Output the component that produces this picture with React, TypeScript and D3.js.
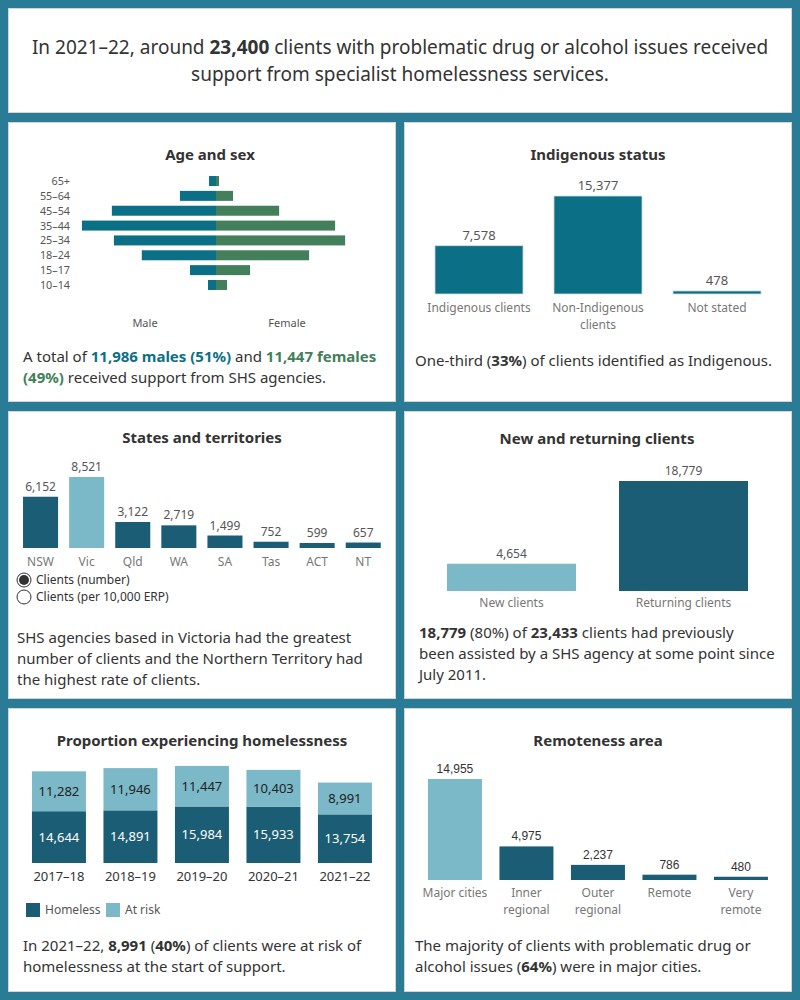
import React from "react";
import * as d3 from "d3";

// age and sex
const ageGroups = ["65+", "55–64", "45–54", "35–44", "25–34", "18–24", "15–17", "10–14"];
const maleClients = [170, 880, 2540, 3270, 2490, 1810, 635, 195];
const femaleClients = [75, 415, 1540, 2905, 3150, 2270, 830, 270];

// indigenous status
const indigenousCats = ["Indigenous clients", "Non-Indigenous clients", "Not stated"];
const indigenousLabels = [["Indigenous clients"], ["Non-Indigenous", "clients"], ["Not stated"]];
const indigenousValues = [7578, 15377, 478];

// states and territories
const states = ["NSW", "Vic", "Qld", "WA", "SA", "Tas", "ACT", "NT"];
const stateClients = [6152, 8521, 3122, 2719, 1499, 752, 599, 657];

// new and returning
const clientTypes = ["New clients", "Returning clients"];
const clientTypeValues = [4654, 18779];

// proportion experiencing homelessness
const years = ["2017–18", "2018–19", "2019–20", "2020–21", "2021–22"];
const homeless = [14644, 14891, 15984, 15933, 13754];
const atRisk = [11282, 11946, 11447, 10403, 8991];

// remoteness
const remoteness = ["Major cities", "Inner regional", "Outer regional", "Remote", "Very remote"];
const remotenessLabels = [["Major cities"], ["Inner", "regional"], ["Outer", "regional"], ["Remote"], ["Very", "remote"]];
const remotenessValues = [14955, 4975, 2237, 786, 480];

const FONT = "'Noto Sans', 'Open Sans', sans-serif";
const ARIAL = "'Liberation Sans', Arial, sans-serif";
const BG = "#2a7b95";
const MALE = "#0b7086";
const FEMALE = "#427f5a";
const DARK = "#1a5d74";
const LIGHT = "#7bb8c8";
const TXT = "#333";
const VAL = "#555";
const CAT = "#777";
const fmt = d3.format(",");

const Panel = ({ x, y, w, h }) => (
  <rect x={x + 0.5} y={y + 0.5} width={w - 1} height={h - 1} fill="#fff" stroke="#d4d4d4" />
);

const Title = ({ x, y, children }) => (
  <text x={x} y={y} textAnchor="middle" fontFamily={FONT} fontSize={15} fontWeight="bold" fill={TXT}>
    {children}
  </text>
);

const AgeSex = () => {
  const y = d3.scaleBand().domain(ageGroups).range([173.6, 292.4]).paddingInner(0.327).paddingOuter(0.1635);
  const x = d3.scaleLinear().domain([-4000, 4000]).range([52, 380]);
  return (
    <g>
      <Panel x={8} y={122} w={388} h={280} />
      <Title x={210} y={160}>Age and sex</Title>
      {ageGroups.map((a, i) => (
        <g key={a}>
          <text x={70} y={y(a) + y.bandwidth() / 2 + 4} textAnchor="end" fontFamily={FONT} fontSize={10.8} fill={VAL}>{a}</text>
          <rect x={x(-maleClients[i])} y={y(a)} width={x(0) - x(-maleClients[i])} height={y.bandwidth()} fill={MALE} />
          <rect x={x(0)} y={y(a)} width={x(femaleClients[i]) - x(0)} height={y.bandwidth()} fill={FEMALE} />
        </g>
      ))}
      <text x={145} y={327} textAnchor="middle" fontFamily={FONT} fontSize={11} fill={VAL}>Male</text>
      <text x={287} y={327} textAnchor="middle" fontFamily={FONT} fontSize={11} fill={VAL}>Female</text>
      <text fontFamily={FONT} fontSize={15} fill={TXT}>
        <tspan x={23} y={362}>A total of </tspan>
        <tspan fill={MALE} fontWeight="bold">11,986 males (51%)</tspan>
        <tspan> and </tspan>
        <tspan fill={FEMALE} fontWeight="bold">11,447 females</tspan>
        <tspan x={23} y={383} fill={FEMALE} fontWeight="bold">(49%)</tspan>
        <tspan> received support from SHS agencies.</tspan>
      </text>
    </g>
  );
};

const Indigenous = () => {
  const x = d3.scaleBand().domain(indigenousCats).range([419.5, 776.5]).paddingInner(0.26).paddingOuter(0.13);
  const y = d3.scaleLinear().domain([0, 15377]).range([294, 196]);
  return (
    <g>
      <Panel x={404} y={122} w={388} h={280} />
      <Title x={598} y={160}>Indigenous status</Title>
      {indigenousCats.map((c, i) => {
        const cx = x(c) + x.bandwidth() / 2;
        return (
          <g key={c}>
            <rect x={x(c)} y={y(indigenousValues[i])} width={x.bandwidth()} height={y(0) - y(indigenousValues[i])} fill={MALE} stroke="#ddd" strokeWidth={0.8} />
            <text x={cx} y={y(indigenousValues[i]) - 6} textAnchor="middle" fontFamily={FONT} fontSize={13} fill={VAL}>{fmt(indigenousValues[i])}</text>
            {indigenousLabels[i].map((l, j) => (
              <text key={l} x={cx} y={312 + j * 17} textAnchor="middle" fontFamily={FONT} fontSize={12} fill={CAT}>{l}</text>
            ))}
          </g>
        );
      })}
      <text x={415} y={366} fontFamily={FONT} fontSize={15} fill={TXT}>
        One-third (<tspan fontWeight="bold">33%</tspan>) of clients identified as Indigenous.
      </text>
    </g>
  );
};

const States = () => {
  const x = d3.scaleBand().domain(states).range([17.5, 386.3]).paddingInner(0.24).paddingOuter(0.12);
  const y = d3.scaleLinear().domain([0, 8521]).range([548, 477]);
  return (
    <g>
      <Panel x={8} y={411} w={388} h={288} />
      <Title x={202} y={443}>States and territories</Title>
      {states.map((s, i) => {
        const cx = x(s) + x.bandwidth() / 2;
        return (
          <g key={s}>
            <rect x={x(s)} y={y(stateClients[i])} width={x.bandwidth()} height={y(0) - y(stateClients[i])} fill={s === "Vic" ? LIGHT : DARK} />
            <text x={cx} y={y(stateClients[i]) - 6} textAnchor="middle" fontFamily={FONT} fontSize={12} fill={VAL}>{fmt(stateClients[i])}</text>
            <text x={cx} y={566} textAnchor="middle" fontFamily={FONT} fontSize={12} fill={CAT}>{s}</text>
          </g>
        );
      })}
      <circle cx={24} cy={580} r={7} fill="#fff" stroke="#333" strokeWidth={1} />
      <circle cx={24} cy={580} r={5} fill="#333" />
      <circle cx={24} cy={597} r={7} fill="#fff" stroke="#333" strokeWidth={1} />
      <text x={36} y={584} fontFamily={FONT} fontSize={12} fill={TXT}>Clients (number)</text>
      <text x={36} y={601} fontFamily={FONT} fontSize={12} fill={TXT}>Clients (per 10,000 ERP)</text>
      <text fontFamily={FONT} fontSize={15} fill={TXT}>
        <tspan x={17} y={643}>SHS agencies based in Victoria had the greatest</tspan>
        <tspan x={17} y={664}>number of clients and the Northern Territory had</tspan>
        <tspan x={17} y={685}>the highest rate of clients.</tspan>
      </text>
    </g>
  );
};

const NewReturning = () => {
  const x = d3.scaleBand().domain(clientTypes).range([425.5, 769.5]).paddingInner(0.25).paddingOuter(0.125);
  const y = d3.scaleLinear().domain([0, 18779]).range([591, 481]);
  return (
    <g>
      <Panel x={404} y={411} w={388} h={288} />
      <Title x={597} y={444}>New and returning clients</Title>
      {clientTypes.map((c, i) => {
        const cx = x(c) + x.bandwidth() / 2;
        return (
          <g key={c}>
            <rect x={x(c)} y={y(clientTypeValues[i])} width={x.bandwidth()} height={y(0) - y(clientTypeValues[i])} fill={i === 0 ? LIGHT : DARK} />
            <text x={cx} y={y(clientTypeValues[i]) - 6} textAnchor="middle" fontFamily={FONT} fontSize={12} fill={VAL}>{fmt(clientTypeValues[i])}</text>
            <text x={cx} y={607} textAnchor="middle" fontFamily={FONT} fontSize={12} fill={CAT}>{c}</text>
          </g>
        );
      })}
      <text fontFamily={FONT} fontSize={15} fill={TXT}>
        <tspan x={419} y={638} fontWeight="bold">18,779</tspan>
        <tspan> (80%) of </tspan>
        <tspan fontWeight="bold">23,433</tspan>
        <tspan> clients had previously</tspan>
        <tspan x={419} y={659}>been assisted by a SHS agency at some point since</tspan>
        <tspan x={419} y={680}>July 2011.</tspan>
      </text>
    </g>
  );
};

const Proportion = () => {
  const rows = years.map((yr, i) => ({ year: yr, homeless: homeless[i], atRisk: atRisk[i] }));
  const series = d3.stack().keys(["homeless", "atRisk"])(rows);
  const x = d3.scaleBand().domain(years).range([23.2, 380.7]).paddingInner(0.245).paddingOuter(0.1225);
  const y = d3.scaleLinear().domain([0, 27431]).range([863, 766]);
  return (
    <g>
      <Panel x={8} y={708} w={388} h={284} />
      <Title x={202} y={746}>Proportion experiencing homelessness</Title>
      {series.map((s) => (
        <g key={s.key}>
          {s.map((d) => {
            const yr = d.data.year;
            const cx = x(yr) + x.bandwidth() / 2;
            return (
              <g key={yr}>
                <rect x={x(yr)} y={y(d[1])} width={x.bandwidth()} height={y(d[0]) - y(d[1])} fill={s.key === "homeless" ? DARK : LIGHT} />
                <text x={cx} y={(y(d[0]) + y(d[1])) / 2 + 4.5} textAnchor="middle" fontFamily={FONT} fontSize={13} fill={s.key === "homeless" ? "#fff" : "#222"}>
                  {fmt(d[1] - d[0])}
                </text>
              </g>
            );
          })}
        </g>
      ))}
      {years.map((yr) => (
        <text key={yr} x={x(yr) + x.bandwidth() / 2} y={881} textAnchor="middle" fontFamily={FONT} fontSize={13} fill={TXT}>{yr}</text>
      ))}
      <rect x={26} y={903} width={14} height={14} fill={DARK} />
      <text x={45} y={914} fontFamily={FONT} fontSize={12} fill={VAL}>Homeless</text>
      <rect x={106} y={903} width={14} height={14} fill={LIGHT} />
      <text x={125} y={914} fontFamily={FONT} fontSize={12} fill={VAL}>At risk</text>
      <text fontFamily={FONT} fontSize={15} fill={TXT}>
        <tspan x={23} y={951}>In 2021–22, </tspan>
        <tspan fontWeight="bold">8,991</tspan>
        <tspan> (</tspan>
        <tspan fontWeight="bold">40%</tspan>
        <tspan>) of clients were at risk of</tspan>
        <tspan x={23} y={972}>homelessness at the start of support.</tspan>
      </text>
    </g>
  );
};

const Remoteness = () => {
  const x = d3.scaleBand().domain(remoteness).range([419.2, 776.7]).paddingInner(0.245).paddingOuter(0.1225);
  const y = d3.scaleLinear().domain([0, 14955]).range([880, 779]);
  return (
    <g>
      <Panel x={404} y={708} w={388} h={284} />
      <Title x={598} y={746}>Remoteness area</Title>
      {remoteness.map((r, i) => {
        const cx = x(r) + x.bandwidth() / 2;
        return (
          <g key={r}>
            <rect x={x(r)} y={y(remotenessValues[i])} width={x.bandwidth()} height={y(0) - y(remotenessValues[i])} fill={i === 0 ? LIGHT : DARK} />
            <text x={cx} y={y(remotenessValues[i]) - 6} textAnchor="middle" fontFamily={ARIAL} fontSize={12} fill={TXT}>{fmt(remotenessValues[i])}</text>
            {remotenessLabels[i].map((l, j) => (
              <text key={l} x={cx} y={897 + j * 17} textAnchor="middle" fontFamily={FONT} fontSize={12} fill={CAT}>{l}</text>
            ))}
          </g>
        );
      })}
      <text fontFamily={FONT} fontSize={15} fill={TXT}>
        <tspan x={415} y={951}>The majority of clients with problematic drug or</tspan>
        <tspan x={415} y={972}>alcohol issues (</tspan>
        <tspan fontWeight="bold">64%</tspan>
        <tspan>) were in major cities.</tspan>
      </text>
    </g>
  );
};

export default function App() {
  return (
    <svg width={800} height={1000} style={{ position: "absolute", left: 0, top: 0, display: "block" }}>
      <rect x={0} y={0} width={800} height={1000} fill={BG} />
      <Panel x={8} y={8} w={784} h={105} />
      <text textAnchor="middle" fontFamily={FONT} fontSize={19} fill={TXT}>
        <tspan x={400} y={54}>In 2021–22, around </tspan>
        <tspan fontWeight="bold">23,400</tspan>
        <tspan> clients with problematic drug or alcohol issues received</tspan>
        <tspan x={400} y={81}>support from specialist homelessness services.</tspan>
      </text>
      <AgeSex />
      <Indigenous />
      <States />
      <NewReturning />
      <Proportion />
      <Remoteness />
    </svg>
  );
}
